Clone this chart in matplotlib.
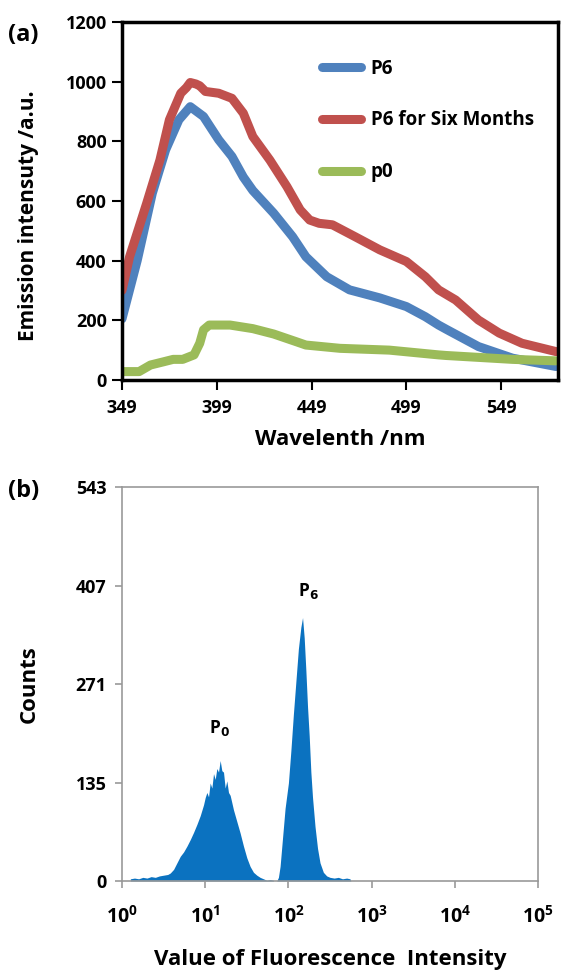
import numpy as np
import matplotlib
matplotlib.use('Agg')
import matplotlib.pyplot as plt

plt.rcParams['font.family'] = ['Open Sans', 'DejaVu Sans']
plt.rcParams['font.weight'] = 'bold'

# (a) emission spectra
wl_p6six = [349, 353, 362, 369, 374, 380, 383, 385, 388, 390, 393, 400, 407, 413, 418, 427,
            436, 443, 448, 453, 460, 472, 485, 499, 509, 516, 525, 537, 548, 560, 578]
em_p6six = [300, 413, 592, 737, 872, 961, 980, 997, 992, 986, 967, 961, 944, 894, 816, 737,
            648, 570, 536, 525, 520, 480, 436, 397, 346, 302, 268, 201, 157, 123, 95]

wl_p6 = [349, 357, 365, 372, 379, 385, 392, 400, 407, 413, 418, 429, 439, 446, 457, 469,
         485, 499, 509, 516, 520, 537, 555, 578]
em_p6 = [205, 400, 626, 771, 872, 916, 883, 805, 749, 680, 635, 559, 480, 413, 346, 302,
         275, 246, 212, 184, 170, 112, 73, 45]

wl_p0 = [349, 358, 364, 371, 376, 381, 387, 390, 392, 395, 406, 418, 429, 441, 446, 464,
         490, 516, 520, 555, 578]
em_p0 = [28, 28, 50, 61, 69, 69, 84, 123, 168, 184, 184, 172, 154, 128, 117, 106,
         100, 84, 82, 69, 64]

# (b) flow cytometry histogram, log10(intensity) vs counts
lg_p0 = [0.10, 0.15, 0.20, 0.25, 0.30, 0.35, 0.40, 0.45, 0.50, 0.55, 0.58, 0.62, 0.66, 0.70,
         0.74, 0.78, 0.82, 0.86, 0.90, 0.94, 0.98, 1.00, 1.02, 1.04, 1.06, 1.08, 1.10, 1.12,
         1.14, 1.16, 1.18, 1.20, 1.22, 1.24, 1.26, 1.28, 1.30, 1.34, 1.38, 1.42, 1.46, 1.50,
         1.54, 1.58, 1.62, 1.66, 1.70, 1.74, 1.78, 1.82]
ct_p0 = [3, 4, 3, 5, 4, 6, 5, 7, 8, 9, 11, 16, 25, 34,
         40, 48, 57, 67, 78, 90, 105, 115, 122, 116, 135, 128, 148, 140,
         155, 150, 166, 152, 150, 128, 138, 122, 118, 98, 82, 66, 48, 32,
         20, 12, 8, 5, 3, 1, 2, 1]

lg_p6 = [1.86, 1.88, 1.90, 1.93, 1.96, 2.00, 2.03, 2.06, 2.09, 2.12, 2.15, 2.17, 2.19, 2.21,
         2.23, 2.25, 2.27, 2.29, 2.32, 2.35, 2.38, 2.42, 2.46, 2.50, 2.55, 2.60, 2.65, 2.70,
         2.74, 2.75]
ct_p6 = [0, 5, 20, 60, 100, 135, 180, 230, 275, 320, 350, 363, 335, 290,
         240, 200, 150, 115, 75, 45, 25, 12, 7, 5, 4, 5, 3, 4,
         3, 0]

yticks_b = [0, 135, 271, 407, 543]

fig = plt.figure(figsize=(5.62, 9.71), dpi=100)

# ---- panel (a)
ax1 = fig.add_axes([0.2171, 0.6087, 0.7758, 0.3687])
ax1.plot(wl_p6, em_p6, color='#4F81BD', lw=6.5, label='P6', solid_capstyle='round')
ax1.plot(wl_p6six, em_p6six, color='#C0504D', lw=6.5, label='P6 for Six Months', solid_capstyle='round')
ax1.plot(wl_p0, em_p0, color='#9BBB59', lw=6.5, label='p0', solid_capstyle='round')
ax1.set_xlim(349, 579)
ax1.set_ylim(0, 1200)
ax1.set_xticks([349, 399, 449, 499, 549])
ax1.set_yticks([0, 200, 400, 600, 800, 1000, 1200])
for s in ax1.spines.values():
    s.set_linewidth(2.5)
ax1.tick_params(direction='out', length=7, width=1.5, labelsize=13, pad=4)
ax1.tick_params(axis='x', pad=7)
ax1.set_xlabel('Wavelenth /nm', fontsize=16, fontweight='bold', labelpad=8)
ax1.set_ylabel('Emission intensuty /a.u.', fontsize=15, fontweight='bold')
ax1.yaxis.set_label_coords(-0.19, 0.46)
leg = ax1.legend(loc='upper left', bbox_to_anchor=(0.42, 0.945), frameon=False, fontsize=13.5,
                 handlelength=2.1, labelspacing=1.7, handletextpad=0.5)
fig.text(0.015, 0.958, '(a)', fontsize=17, fontweight='bold')

# ---- panel (b)
ax2 = fig.add_axes([0.2171, 0.0927, 0.7402, 0.4058])
ax2.fill_between([10 ** v for v in lg_p0], ct_p0, color='#0B72C0', lw=0)
ax2.fill_between([10 ** v for v in lg_p6], ct_p6, color='#0B72C0', lw=0)
ax2.set_xscale('log')
ax2.set_xlim(1, 1e5)
ax2.set_ylim(0, 543)
ax2.set_yticks(yticks_b)
ax2.minorticks_off()
for s in ax2.spines.values():
    s.set_color('#999999')
    s.set_linewidth(1.2)
ax2.tick_params(direction='out', length=5, width=1.2, color='#999999', labelsize=13, pad=6)
ax2.tick_params(axis='x', pad=13, labelsize=14)
ax2.set_ylabel('Counts', fontsize=16, fontweight='bold', labelpad=26)
ax2.set_xlabel('Value of Fluorescence  Intensity', fontsize=16, fontweight='bold', labelpad=15)
ax2.text(10 ** 1.17, 204, 'P$_\\mathbf{0}$', fontsize=12.5, fontweight='bold', ha='center')
ax2.text(10 ** 2.24, 393, 'P$_\\mathbf{6}$', fontsize=12.5, fontweight='bold', ha='center')
fig.text(0.015, 0.488, '(b)', fontsize=17, fontweight='bold')

fig.savefig('out.png', dpi=100)
